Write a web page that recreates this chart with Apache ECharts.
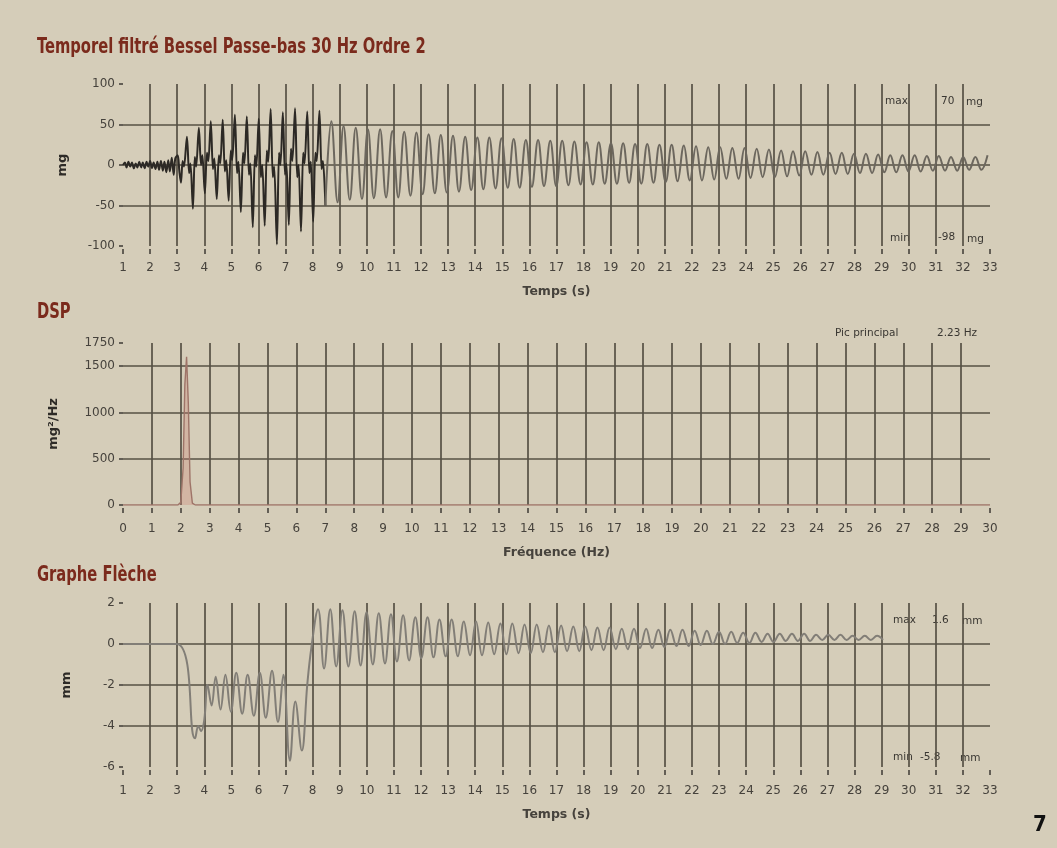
<!DOCTYPE html>
<html>
<head>
<meta charset="utf-8">
<script src="https://cdn.jsdelivr.net/npm/echarts@6/dist/echarts.min.js"></script>
<style>
html,body{margin:0;padding:0;background:#d5cdb9;}
#chart{width:1057px;height:848px;}
</style>
</head>
<body>
<div id="chart"></div>
<script>
// ---------- DATA ----------
// Panel 1 : acceleration (mg) vs time (s)
const accelTicksX = [1, 33];
const accelQuiet = [[1.0,0],[1.07,3],[1.13,-3],[1.2,4],[1.27,-2],[1.33,3],[1.4,-4],[1.47,2],[1.53,-3],[1.6,4],[1.67,-3],[1.73,3],[1.8,-4],[1.87,4],[1.93,-2],[2.0,5],[2.07,-4],[2.13,3],[2.2,-5],[2.27,4],[2.33,-6],[2.4,5],[2.47,-7],[2.53,4],[2.6,-9],[2.67,6],[2.73,-8],[2.8,9],[2.87,-12],[2.93,8]];
const accelStrong = [[3.02,12],[3.08,-8],[3.14,-22],[3.2,5],[3.25,-2],[3.36,35],[3.44,-10],[3.49,2],[3.58,-54],[3.65,10],[3.70,-2],[3.80,46],[3.88,0],[3.93,12],[4.02,-35],[4.10,15],[4.15,5],[4.24,54],[4.32,-5],[4.37,8],[4.46,-42],[4.54,12],[4.59,2],[4.68,56],[4.76,-8],[4.81,6],[4.90,-44],[4.98,18],[5.03,6],[5.13,62],[5.21,-10],[5.26,4],[5.35,-58],[5.43,15],[5.48,2],[5.57,60],[5.65,-12],[5.70,2],[5.79,-77],[5.87,12],[5.92,-2],[6.01,57],[6.09,-15],[6.14,0],[6.23,-75],[6.31,18],[6.36,4],[6.45,69],[6.53,-15],[6.58,-2],[6.68,-98],[6.76,15],[6.81,0],[6.90,65],[6.98,-12],[7.03,2],[7.12,-74],[7.20,20],[7.25,5],[7.35,70],[7.43,-15],[7.48,0],[7.57,-82],[7.65,15],[7.70,2],[7.80,66],[7.88,-10],[7.93,4],[8.02,-70],[8.10,15],[8.15,5],[8.25,67],[8.33,-5],[8.38,5],[8.47,-50]];
const accelDecay = [[8.47,-50],[8.69,54],[8.92,-46],[9.14,48],[9.37,-43],[9.59,46],[9.82,-42],[10.04,44],[10.26,-41],[10.49,44],[10.71,-40],[10.94,42],[11.16,-40],[11.38,41],[11.61,-38],[11.83,40],[12.06,-36],[12.28,38],[12.51,-35],[12.73,37],[12.95,-34],[13.18,36],[13.40,-33],[13.63,35],[13.85,-31],[14.08,34],[14.30,-30],[14.52,34],[14.75,-29],[14.97,33],[15.20,-28],[15.42,32],[15.64,-28],[15.87,31],[16.09,-27],[16.32,31],[16.54,-26],[16.77,30],[16.99,-26],[17.21,30],[17.44,-25],[17.66,29],[17.89,-24],[18.11,28],[18.34,-24],[18.56,28],[18.78,-23],[19.01,27],[19.23,-23],[19.46,27],[19.68,-22],[19.90,26],[20.13,-23],[20.35,26],[20.58,-22],[20.80,25],[21.03,-21],[21.25,25],[21.47,-20],[21.70,24],[21.92,-19],[22.15,23],[22.37,-19],[22.60,22],[22.82,-18],[23.04,22],[23.27,-17],[23.49,21],[23.72,-17],[23.94,21],[24.16,-16],[24.39,20],[24.61,-15],[24.84,19],[25.06,-15],[25.29,18],[25.51,-14],[25.73,17],[25.96,-13],[26.18,17],[26.41,-12],[26.63,16],[26.85,-12],[27.08,15],[27.30,-11],[27.53,15],[27.75,-11],[27.98,14],[28.20,-10],[28.42,14],[28.65,-10],[28.87,13],[29.10,-9],[29.32,12],[29.54,-9],[29.77,12],[29.99,-8],[30.22,12],[30.44,-8],[30.67,11],[30.89,-7],[31.11,11],[31.34,-7],[31.56,10],[31.79,-7],[32.01,10],[32.23,-6],[32.46,10],[32.68,-6],[32.91,12]];

// Panel 2 : power spectral density (mg²/Hz) vs frequency (Hz)
const dspCurve = [[0,0],[1.9,0],[2.0,30],[2.08,400],[2.14,1300],[2.2,1600],[2.26,1100],[2.32,250],[2.4,20],[2.5,0],[30,0]];
const dspYTicks = [0, 500, 1000, 1500, 1750];

// Panel 3 : deflection (mm) vs time (s)
const deflDrop = [[1,0],[2.98,0],[3.66,-4.6],[3.78,-4.0],[3.88,-4.25],[4.0,-3.7],[4.12,-2.0],[4.27,-3.0],[4.42,-1.6],[4.6,-3.2],[4.78,-1.5],[4.98,-3.3],[5.18,-1.4],[5.4,-3.4],[5.6,-1.5],[5.83,-3.5],[6.05,-1.4],[6.27,-3.6],[6.5,-1.3],[6.72,-3.8],[6.92,-1.5],[7.16,-5.7],[7.36,-2.8],[7.6,-5.2],[7.8,-2.0],[7.95,-0.2]];
const deflOsc = [[8.20,1.7],[8.42,-1.2],[8.65,1.7],[8.87,-1.1],[9.10,1.65],[9.32,-1.1],[9.55,1.6],[9.77,-1.05],[9.99,1.55],[10.22,-1.0],[10.44,1.5],[10.67,-0.95],[10.89,1.45],[11.11,-0.85],[11.34,1.4],[11.56,-0.8],[11.79,1.3],[12.01,-0.7],[12.24,1.3],[12.46,-0.65],[12.68,1.2],[12.91,-0.6],[13.13,1.2],[13.36,-0.6],[13.58,1.1],[13.81,-0.55],[14.03,1.1],[14.25,-0.55],[14.48,1.05],[14.70,-0.5],[14.93,1.0],[15.15,-0.5],[15.37,1.0],[15.60,-0.45],[15.82,0.95],[16.05,-0.45],[16.27,0.95],[16.50,-0.4],[16.72,0.9],[16.94,-0.4],[17.17,0.9],[17.39,-0.35],[17.62,0.85],[17.84,-0.35],[18.06,0.85],[18.29,-0.3],[18.51,0.8],[18.74,-0.3],[18.96,0.8],[19.19,-0.25],[19.41,0.75],[19.63,-0.25],[19.86,0.75],[20.08,-0.2],[20.31,0.75],[20.53,-0.2],[20.76,0.7],[20.98,-0.15],[21.20,0.7],[21.43,-0.1],[21.65,0.7],[21.88,-0.1],[22.10,0.65],[22.32,-0.05],[22.55,0.65],[22.77,0.0],[23.00,0.6],[23.22,0.0],[23.45,0.6],[23.67,0.05],[23.89,0.55],[24.12,0.05],[24.34,0.55],[24.57,0.1],[24.79,0.5],[25.01,0.1],[25.24,0.5],[25.46,0.15],[25.69,0.5],[25.91,0.15],[26.14,0.5],[26.36,0.15],[26.58,0.45],[26.81,0.2],[27.03,0.45],[27.26,0.2],[27.48,0.45],[27.71,0.2],[27.93,0.4],[28.15,0.2],[28.38,0.4],[28.60,0.2],[28.83,0.4],[29.05,0.2]];

// Text annotations
const titles = ['Temporel filtré Bessel Passe-bas 30 Hz Ordre 2', 'DSP', 'Graphe Flèche'];
const accelMax = '70', accelMin = '-98';
const peakFreq = '2.23';
const deflMax = '1.6', deflMin = '-5.8';

// ---------- CHART ----------
const GRID = '#565045';
const LABEL = '#46423c';
const FONT = '"DejaVu Sans", sans-serif';
const TITLE_FONT = '"Liberation Sans Narrow", "DejaVu Sans Condensed", "Roboto", sans-serif';

function xAxisDef(idx, min, max, name, gap, margin) {
  return {
    gridIndex: idx, type: 'value', min: min, max: max, interval: 1, offset: 3,
    axisLine: {show: false, onZero: false},
    axisTick: {show: true, length: 5, lineStyle: {color: '#3e3a34', width: 1.5}},
    axisLabel: {margin: margin, color: LABEL, fontFamily: FONT, fontSize: 12},
    splitLine: {show: true, showMinLine: false, showMaxLine: false, lineStyle: {color: GRID, width: 1.7}},
    name: name, nameLocation: 'middle', nameGap: gap,
    nameTextStyle: {color: LABEL, fontFamily: FONT, fontSize: 12.5, fontWeight: 'bold'}
  };
}
function yAxisDef(idx, min, max, interval, name, gap) {
  return {
    gridIndex: idx, type: 'value', min: min, max: max, interval: interval,
    axisLine: {show: false, onZero: false},
    axisTick: {show: true, length: 4, lineStyle: {color: '#3e3a34', width: 1.5}},
    axisLabel: {margin: 8, color: LABEL, fontFamily: FONT, fontSize: 12, formatter: function (v) { return String(v); }},
    splitLine: {show: true, showMinLine: false, showMaxLine: false, lineStyle: {color: GRID, width: 1.7}},
    name: name, nameLocation: 'middle', nameGap: gap,
    nameTextStyle: {color: '#2e2b27', fontFamily: FONT, fontSize: 13, fontWeight: 'bold'}
  };
}
function txt(x, y, s, size) {
  return {type: 'text', x: x, y: y, silent: true,
    style: {text: s, fill: '#3a3732', font: (size || 10.5) + 'px ' + FONT, textVerticalAlign: 'middle'}};
}
function title(x, y, s) {
  return {type: 'text', x: x, y: y, scaleX: 0.78, silent: true,
    style: {text: s, fill: '#7b2a1c', font: 'bold 21px ' + TITLE_FONT}};
}

const chart = echarts.init(document.getElementById('chart'), null, {renderer: 'canvas'});
chart.setOption({
  backgroundColor: '#d5cdb9',
  animation: false,
  grid: [
    {left: 123, width: 867, top: 84, height: 162},
    {left: 123, width: 867, top: 343, height: 162},
    {left: 123, width: 867, top: 603, height: 164}
  ],
  xAxis: [
    xAxisDef(0, accelTicksX[0], accelTicksX[1], 'Temps (s)', 36, 13),
    xAxisDef(1, 0, 30, 'Fréquence (Hz)', 38, 15),
    xAxisDef(2, accelTicksX[0], accelTicksX[1], 'Temps (s)', 38, 15)
  ],
  yAxis: [
    yAxisDef(0, -100, 100, 50, 'mg', 54),
    yAxisDef(1, dspYTicks[0], dspYTicks[dspYTicks.length - 1], 500, 'mg²/Hz', 63),
    yAxisDef(2, -6, 2, 2, 'mm', 50)
  ],
  series: [
    {type: 'line', xAxisIndex: 0, yAxisIndex: 0, data: accelQuiet.concat(accelStrong), showSymbol: false, smooth: 0.3,
      lineStyle: {color: '#2c2925', width: 2}},
    {type: 'line', xAxisIndex: 0, yAxisIndex: 0, data: accelDecay, showSymbol: false, smooth: 0.4,
      lineStyle: {color: '#6c675e', width: 2}},
    {type: 'line', xAxisIndex: 1, yAxisIndex: 1, data: dspCurve, showSymbol: false,
      lineStyle: {color: '#9e7468', width: 1.4}, areaStyle: {color: 'rgba(205,130,118,0.45)'}},
    {type: 'line', xAxisIndex: 2, yAxisIndex: 2, data: deflDrop.concat(deflOsc), showSymbol: false, smooth: 0.4,
      lineStyle: {color: '#827e77', width: 2}}
  ],
  graphic: [
    title(37, 37, titles[0]),
    title(37, 302, titles[1]),
    title(37, 565, titles[2]),
    txt(885, 101, 'max'), txt(941, 101, accelMax), txt(966, 102, 'mg'),
    txt(890, 238, 'min'), txt(938, 237, accelMin), txt(967, 239, 'mg'),
    txt(835, 333, 'Pic principal'), txt(937, 333, peakFreq + ' Hz'),
    txt(893, 620, 'max'), txt(932, 620, deflMax), txt(962, 621, 'mm'),
    txt(893, 757, 'min'), txt(920, 757, deflMin), txt(960, 758, 'mm'),
    {type: 'text', x: 1033, y: 814, silent: true, style: {text: '7', fill: '#111', font: 'bold 22px ' + TITLE_FONT}}
  ]
});
</script>
</body>
</html>
